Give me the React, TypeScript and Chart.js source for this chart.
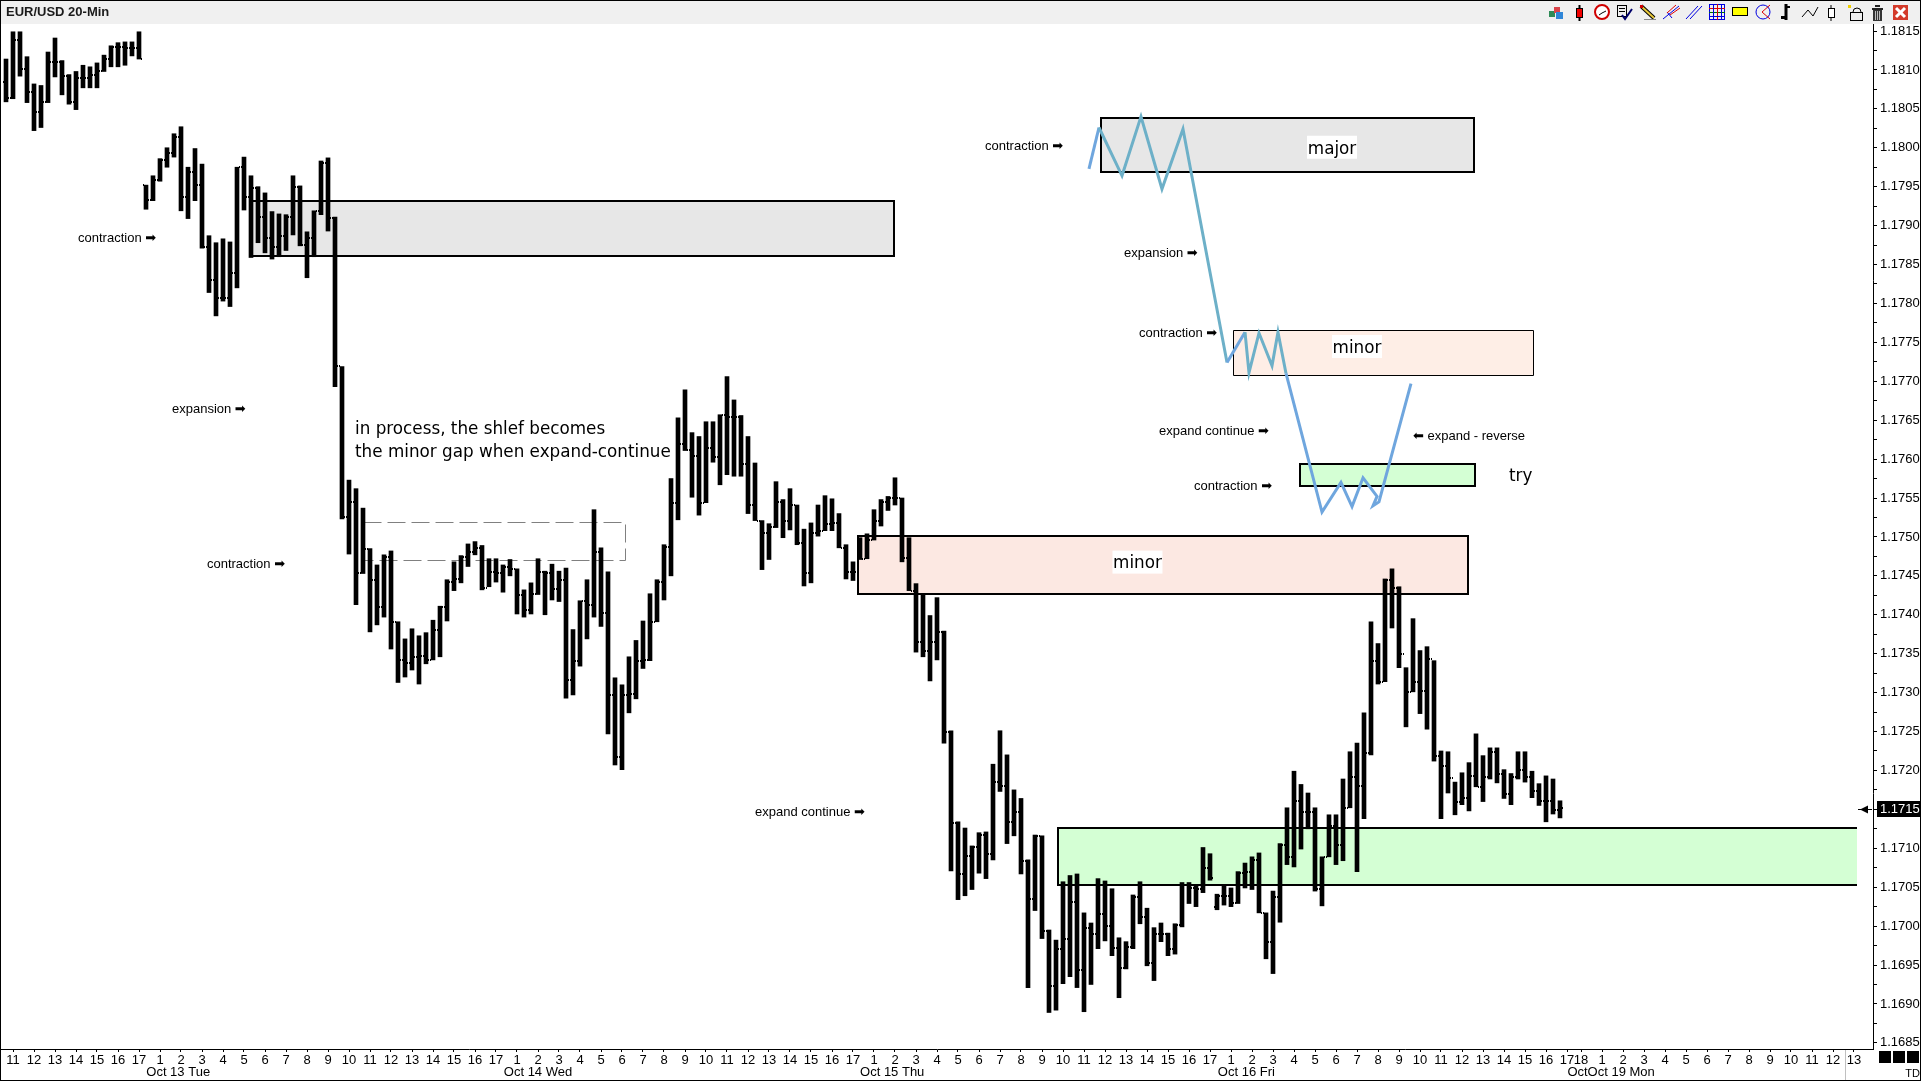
import { useEffect, useRef } from "react";
import { Chart, registerables } from "chart.js";

Chart.register(...registerables);

const highs = [
  1.18114,1.18149,1.18149,1.18117,1.18082,1.18080,1.18123,1.18141,1.18112,1.18094,
  1.18098,1.18106,1.18104,1.18109,1.18119,1.18131,1.18135,1.18136,1.18136,1.18149,
  1.17952,1.17964,1.17986,1.18000,1.18018,1.18027,1.17975,1.17999,1.17979,1.17887,
  1.17878,1.17883,1.17879,1.17975,1.17988,1.17964,1.17950,1.17942,1.17918,1.17915,
  1.17914,1.17964,1.17951,1.17892,1.17919,1.17983,1.17987,1.17911,1.17719,1.17573,
  1.17562,1.17537,1.17485,1.17464,1.17477,1.17482,1.17391,1.17369,1.17382,1.17373,
  1.17377,1.17393,1.17411,1.17445,1.17468,1.17476,1.17491,1.17494,1.17489,1.17472,
  1.17472,1.17464,1.17471,1.17459,1.17432,1.17441,1.17472,1.17456,1.17465,1.17456,
  1.17460,1.17381,1.17418,1.17445,1.17535,1.17486,1.17455,1.17319,1.17310,1.17346,
  1.17367,1.17392,1.17427,1.17445,1.17490,1.17575,1.17653,1.17689,1.17634,1.17629,
  1.17648,1.17648,1.17657,1.17706,1.17676,1.17656,1.17629,1.17595,1.17521,1.17517,
  1.17571,1.17548,1.17562,1.17541,1.17510,1.17518,1.17541,1.17553,1.17549,1.17530,
  1.17490,1.17468,1.17499,1.17504,1.17535,1.17548,1.17552,1.17576,1.17550,1.17499,
  1.17440,1.17427,1.17399,1.17422,1.17379,1.17251,1.17134,1.17126,1.17103,1.17120,
  1.17121,1.17208,1.17251,1.17220,1.17175,1.17164,1.17085,1.17117,1.17116,1.16995,
  1.16982,1.17057,1.17065,1.17067,1.17017,1.17004,1.17061,1.17058,1.17048,1.16985,
  1.16980,1.17040,1.17057,1.17023,1.16998,1.17004,1.16991,1.17003,1.17056,1.17056,
  1.17052,1.17101,1.17093,1.17041,1.17053,1.17049,1.17070,1.17081,1.17089,1.17094,
  1.17017,1.17045,1.17106,1.17152,1.17199,1.17182,1.17171,1.17152,1.17089,1.17143,
  1.17143,1.17189,1.17224,1.17235,1.17274,1.17391,1.17363,1.17446,1.17459,1.17436,
  1.17332,1.17395,1.17354,1.17359,1.17341,1.17225,1.17224,1.17185,1.17197,1.17210,
  1.17247,1.17219,1.17229,1.17229,1.17201,1.17196,1.17224,1.17224,1.17199,1.17183,1.17193,1.17189,1.17161,
];

const lows = [
  1.18059,1.18063,1.18092,1.18058,1.18022,1.18026,1.18058,1.18091,1.18068,1.18056,
  1.18049,1.18077,1.18077,1.18077,1.18098,1.18104,1.18104,1.18106,1.18118,1.18114,
  1.17921,1.17932,1.17957,1.17975,1.17988,1.17919,1.17909,1.17932,1.17871,1.17814,
  1.17784,1.17803,1.17796,1.17820,1.17920,1.17859,1.17878,1.17865,1.17857,1.17860,
  1.17868,1.17888,1.17874,1.17833,1.17860,1.17914,1.17893,1.17693,1.17523,1.17478,
  1.17413,1.17453,1.17378,1.17387,1.17397,1.17356,1.17313,1.17320,1.17329,1.17311,
  1.17337,1.17342,1.17346,1.17392,1.17431,1.17441,1.17462,1.17477,1.17432,1.17436,
  1.17442,1.17429,1.17450,1.17401,1.17397,1.17401,1.17426,1.17400,1.17419,1.17417,
  1.17293,1.17297,1.17334,1.17369,1.17397,1.17385,1.17247,1.17207,1.17201,1.17274,
  1.17292,1.17331,1.17341,1.17391,1.17419,1.17450,1.17522,1.17611,1.17551,1.17528,
  1.17544,1.17596,1.17567,1.17580,1.17578,1.17578,1.17530,1.17521,1.17458,1.17471,
  1.17512,1.17499,1.17509,1.17490,1.17437,1.17441,1.17501,1.17508,1.17508,1.17486,
  1.17446,1.17444,1.17471,1.17472,1.17496,1.17514,1.17534,1.17541,1.17468,1.17431,
  1.17352,1.17346,1.17315,1.17342,1.17235,1.17071,1.17034,1.17039,1.17047,1.17068,
  1.17061,1.17085,1.17173,1.17106,1.17116,1.17067,1.16921,1.17020,1.16984,1.16889,
  1.16892,1.16926,1.16935,1.16921,1.16890,1.16925,1.16971,1.16981,1.16962,1.16908,
  1.16945,1.16971,1.17003,1.16949,1.16930,1.16980,1.16962,1.16964,1.16999,1.17029,
  1.17025,1.17043,1.17059,1.17021,1.17027,1.17025,1.17029,1.17049,1.17047,1.17017,
  1.16958,1.16939,1.17005,1.17079,1.17076,1.17099,1.17125,1.17045,1.17026,1.17089,
  1.17079,1.17084,1.17152,1.17070,1.17138,1.17220,1.17311,1.17314,1.17383,1.17332,
  1.17256,1.17301,1.17273,1.17253,1.17212,1.17138,1.17171,1.17143,1.17156,1.17148,
  1.17179,1.17160,1.17189,1.17184,1.17164,1.17156,1.17189,1.17185,1.17165,1.17155,1.17134,1.17144,1.17139,
];

const closes = [
  1.18064,1.18139,1.18101,1.18071,1.18046,1.18059,1.18110,1.18110,1.18092,1.18059,
  1.18090,1.18089,1.18094,1.18099,1.18114,1.18130,1.18130,1.18128,1.18128,1.18114,
  1.17933,1.17959,1.17984,1.17993,1.18014,1.17937,1.17969,1.17952,1.17873,1.17830,
  1.17807,1.17807,1.17839,1.17975,1.17937,1.17948,1.17911,1.17884,1.17873,1.17886,
  1.17911,1.17950,1.17875,1.17884,1.17919,1.17981,1.17910,1.17719,1.17525,1.17545,
  1.17454,1.17485,1.17445,1.17410,1.17474,1.17391,1.17342,1.17338,1.17346,1.17347,
  1.17342,1.17381,1.17410,1.17442,1.17446,1.17474,1.17481,1.17486,1.17435,1.17455,
  1.17454,1.17462,1.17459,1.17426,1.17406,1.17427,1.17455,1.17454,1.17433,1.17445,
  1.17316,1.17341,1.17418,1.17413,1.17480,1.17402,1.17297,1.17217,1.17297,1.17298,
  1.17341,1.17342,1.17391,1.17442,1.17487,1.17543,1.17620,1.17612,1.17604,1.17544,
  1.17614,1.17603,1.17657,1.17654,1.17654,1.17594,1.17541,1.17521,1.17505,1.17513,
  1.17545,1.17521,1.17541,1.17492,1.17454,1.17505,1.17507,1.17517,1.17518,1.17486,
  1.17455,1.17455,1.17472,1.17496,1.17521,1.17545,1.17550,1.17550,1.17473,1.17431,
  1.17365,1.17354,1.17365,1.17378,1.17250,1.17133,1.17067,1.17090,1.17101,1.17117,
  1.17092,1.17185,1.17180,1.17134,1.17147,1.17084,1.17035,1.17116,1.16994,1.16923,
  1.16971,1.16984,1.17031,1.16944,1.16998,1.16990,1.17016,1.17000,1.16972,1.16946,
  1.16973,1.17038,1.17012,1.16953,1.16990,1.16990,1.16971,1.17002,1.17053,1.17049,
  1.17048,1.17075,1.17062,1.17039,1.17039,1.17030,1.17068,1.17070,1.17085,1.17017,
  1.16980,1.17038,1.17104,1.17089,1.17161,1.17147,1.17147,1.17048,1.17089,1.17129,
  1.17104,1.17152,1.17192,1.17180,1.17223,1.17341,1.17314,1.17445,1.17435,1.17350,
  1.17301,1.17313,1.17302,1.17343,1.17219,1.17206,1.17190,1.17160,1.17165,1.17193,
  1.17179,1.17192,1.17224,1.17196,1.17170,1.17192,1.17201,1.17192,1.17173,1.17161,1.17161,1.17149,1.17152,
];

const opens = [
  1.18085,1.18064,1.18139,1.18101,1.18071,1.18046,1.18059,1.18110,1.18110,1.18092,
  1.18059,1.18090,1.18089,1.18094,1.18099,1.18114,1.18130,1.18130,1.18128,1.18128,
  1.17952,1.17933,1.17959,1.17984,1.17993,1.18014,1.17937,1.17969,1.17952,1.17873,
  1.17830,1.17807,1.17807,1.17839,1.17975,1.17937,1.17948,1.17911,1.17884,1.17873,
  1.17886,1.17911,1.17950,1.17875,1.17884,1.17919,1.17981,1.17910,1.17719,1.17525,
  1.17545,1.17454,1.17485,1.17445,1.17410,1.17474,1.17391,1.17342,1.17338,1.17346,
  1.17347,1.17342,1.17381,1.17410,1.17442,1.17446,1.17474,1.17481,1.17486,1.17435,
  1.17455,1.17454,1.17462,1.17459,1.17426,1.17406,1.17427,1.17455,1.17454,1.17433,
  1.17445,1.17316,1.17341,1.17418,1.17413,1.17480,1.17402,1.17297,1.17217,1.17297,
  1.17298,1.17341,1.17342,1.17391,1.17442,1.17487,1.17543,1.17620,1.17612,1.17604,
  1.17544,1.17614,1.17603,1.17657,1.17654,1.17654,1.17594,1.17541,1.17521,1.17505,
  1.17513,1.17545,1.17521,1.17541,1.17492,1.17454,1.17505,1.17507,1.17517,1.17518,
  1.17486,1.17455,1.17455,1.17472,1.17496,1.17521,1.17545,1.17550,1.17550,1.17473,
  1.17431,1.17365,1.17354,1.17365,1.17378,1.17250,1.17133,1.17067,1.17090,1.17101,
  1.17117,1.17092,1.17185,1.17180,1.17134,1.17147,1.17084,1.17035,1.17116,1.16994,
  1.16923,1.16971,1.16984,1.17031,1.16944,1.16998,1.16990,1.17016,1.17000,1.16972,
  1.16946,1.16973,1.17038,1.17012,1.16953,1.16990,1.16990,1.16971,1.17002,1.17053,
  1.17049,1.17048,1.17075,1.17025,1.17039,1.17039,1.17030,1.17068,1.17070,1.17085,
  1.17017,1.16980,1.17038,1.17104,1.17089,1.17161,1.17147,1.17147,1.17048,1.17089,
  1.17129,1.17104,1.17152,1.17192,1.17180,1.17223,1.17341,1.17314,1.17445,1.17435,
  1.17350,1.17301,1.17313,1.17302,1.17343,1.17219,1.17206,1.17190,1.17160,1.17165,
  1.17193,1.17179,1.17192,1.17224,1.17196,1.17170,1.17192,1.17201,1.17192,1.17173,1.17161,1.17161,1.17149,
];

// Schematic zig-zag: x in bar slots, y in price
const swingSlots = [154.71,156.14,159.43,162.14,165.14,168.14,174.43,177,177.57,179,180.86,181.71,182.86,188,190.71,192.29,193.86,195.86,195.29,196.14,200.71];
const swingPrices = [1.17973,1.18026,1.17964,1.18040,1.17947,1.18024,1.17724,1.17763,1.17711,1.17762,1.17720,1.17763,1.17710,1.17532,1.17570,1.17539,1.17576,1.17552,1.17540,1.17545,1.17697];
const swingInBox = [0,1,1,1,1,1,0,1,1,1,1,1,0,0,0,0,0,0,0,0];

// x axis: slot of every hour tick and its label
const hourLabels = [
  "11","12","13","14","15","16","17",
  "1","2","3","4","5","6","7","8","9","10","11","12","13","14","15","16","17",
  "1","2","3","4","5","6","7","8","9","10","11","12","13","14","15","16","17",
  "1","2","3","4","5","6","7","8","9","10","11","12","13","14","15","16","17",
  "1","2","3","4","5","6","7","8","9","10","11","12","13","14","15","16","17",
];
const hourLabelsAfter = ["18","1","2","3","4","5","6","7","8","9","10","11","12","13"];
const hourSlotsAfter = [225,228,231,234,237,240,243,246,249,252,255,258,261,264];

const dayLabels = ["Oct 13 Tue", "Oct 14 Wed", "Oct 15 Thu", "Oct 16 Fri", "OctOct 19 Mon"];
const daySlots = [24.6, 76, 126.6, 177.2, 229.3];

const priceTicks = [
  1.1685,1.16875,1.169,1.16925,1.1695,1.16975,1.17,1.17025,1.1705,1.17075,1.171,1.17125,1.1715,1.17175,
  1.172,1.17225,1.1725,1.17275,1.173,1.17325,1.1735,1.17375,1.174,1.17425,1.1745,1.17475,1.175,1.17525,
  1.1755,1.17575,1.176,1.17625,1.1765,1.17675,1.177,1.17725,1.1775,1.17775,1.178,1.17825,1.1785,1.17875,
  1.179,1.17925,1.1795,1.17975,1.18,1.18025,1.1805,1.18075,1.181,1.18125,1.1815,
];
const lastPrice = 1.1715;

const zones = [
  { x0: 35, x1: 126.86, top: 1.17931, bottom: 1.17861, fill: "#E7E7E7", lw: 2, openRight: false },
  { x0: 121.71, x1: 208.86, top: 1.17501, bottom: 1.17427, fill: "#FCE8E2", lw: 2, openRight: false },
  { x0: 150.29, x1: 264.43, top: 1.17126, bottom: 1.17053, fill: "#D4FFD4", lw: 2, openRight: true },
  { x0: 156.43, x1: 209.71, top: 1.18038, bottom: 1.17969, fill: "#E7E7E7", lw: 2, openRight: false },
  { x0: 175.29, x1: 218.14, top: 1.17766, bottom: 1.17708, fill: "#FEEEE6", lw: 1, openRight: false },
  { x0: 184.86, x1: 209.86, top: 1.17594, bottom: 1.17566, fill: "#D4FFD4", lw: 2, openRight: false },
];
const dashedZone = { x0: 51, x1: 88.43, top: 1.17519, bottom: 1.17471 };

const SMALL = "13px 'Liberation Sans', 'DejaVu Sans', sans-serif";
const LARGE = "16.8px 'DejaVu Sans', sans-serif";
const notes = [
  { text: "contraction ➡", x: 10.29, y: 1.17884, font: SMALL },
  { text: "expansion ➡", x: 23.71, y: 1.17665, font: SMALL },
  { text: "contraction ➡", x: 28.71, y: 1.17465, font: SMALL },
  { text: "expand continue ➡", x: 107, y: 1.17147, font: SMALL },
  { text: "contraction ➡", x: 139.86, y: 1.18002, font: SMALL },
  { text: "expansion ➡", x: 159.71, y: 1.17865, font: SMALL },
  { text: "contraction ➡", x: 161.86, y: 1.17762, font: SMALL },
  { text: "expand continue ➡", x: 164.71, y: 1.17636, font: SMALL },
  { text: "contraction ➡", x: 169.71, y: 1.17566, font: SMALL },
  { text: "⬅ expand - reverse", x: 201, y: 1.1763, font: SMALL },
  { text: "try", x: 214.71, y: 1.1758, font: LARGE },
  { text: "in process, the shlef becomes", x: 49.86, y: 1.1764, font: LARGE },
  { text: "the minor gap when expand-continue", x: 49.86, y: 1.17611, font: LARGE },
];
const tags = [
  { text: "major", x: 189.43, y: 1.18 },
  { text: "minor", x: 193, y: 1.17744 },
  { text: "minor", x: 161.64, y: 1.17467 },
];

const barPoints = highs.map((h, i) => ({ x: i, y: [lows[i], h] }));
const swingPoints = swingSlots.map((x, i) => ({ x, y: swingPrices[i] }));
const hourSlots = hourLabels.map((_, i) => 1 + 3 * i).concat(hourSlotsAfter);
const allHourLabels = hourLabels.concat(hourLabelsAfter);

function drawToolbar(c: CanvasRenderingContext2D) {
  const rect = (x: number, y: number, w: number, h: number, f: string) => { c.fillStyle = f; c.fillRect(x, y, w, h); };
  const line = (pts: number[][], col: string, lw = 1) => {
    c.strokeStyle = col; c.lineWidth = lw; c.beginPath();
    pts.forEach((p, i) => (i ? c.lineTo(p[0], p[1]) : c.moveTo(p[0], p[1])));
    c.stroke();
  };
  const circle = (x: number, y: number, r: number, col: string, lw = 1, f?: string) => {
    c.beginPath(); c.arc(x, y, r, 0, Math.PI * 2);
    if (f) { c.fillStyle = f; c.fill(); }
    c.strokeStyle = col; c.lineWidth = lw; c.stroke();
  };
  // cubes
  rect(1549, 11, 6, 6, "#2E8B57"); rect(1554, 7, 6, 6, "#D9434A"); rect(1556, 12, 7, 7, "#2F86D8");
  // red candle
  rect(1578.5, 5, 2, 16, "#000"); rect(1576, 8, 7, 10, "#000"); rect(1577, 9, 5, 8, "#F00000");
  // clock
  circle(1602, 12, 7, "#D00000", 2, "#fff"); line([[1602, 13], [1606, 11]], "#000"); line([[1602, 13], [1599, 15]], "#000");
  // check list
  c.strokeStyle = "#000"; c.lineWidth = 1; c.strokeRect(1617.5, 5.5, 9, 11);
  line([[1619, 8.5], [1625, 8.5]], "#000"); line([[1619, 11.5], [1625, 11.5]], "#000");
  line([[1622, 15], [1625, 19], [1632, 9]], "#00006A", 2);
  // pencil
  line([[1641, 6], [1654, 18]], "#000", 4); line([[1641, 6], [1654, 18]], "#E8C83A", 2); rect(1640, 5, 3, 3, "#D00000");
  line([[1644, 19.5], [1656, 19.5]], "#888");
  // pitchfork
  line([[1663, 19], [1679, 6]], "#0000E0"); line([[1667, 12], [1672, 18]], "#0000E0");
  line([[1667, 13], [1676, 5]], "#E00000"); line([[1670, 15], [1680, 8]], "#E00000");
  // parallels
  line([[1686, 19], [1698, 6]], "#0000E0"); line([[1690, 19], [1702, 6]], "#0000E0");
  // grid
  c.strokeStyle = "#0000E0"; c.strokeRect(1709.5, 4.5, 15, 15);
  line([[1709, 12.5], [1725, 12.5]], "#007000"); line([[1717.5, 4], [1717.5, 20]], "#E00000");
  line([[1709, 8.5], [1725, 8.5]], "#E00000"); line([[1709, 16.5], [1725, 16.5]], "#0000E0"); line([[1713.5, 4], [1713.5, 20]], "#0000E0"); line([[1721.5, 4], [1721.5, 20]], "#0000E0");
  // yellow box
  rect(1733, 7, 15, 9, "#FFFF00"); c.strokeStyle = "#000"; c.strokeRect(1732.5, 7.5, 15, 8);
  // circle and angle
  circle(1763, 12, 7, "#0000E0"); line([[1770, 5], [1762, 12], [1770, 19]], "#E00000");
  // bar
  rect(1784.5, 4, 3, 16, "#000"); rect(1781, 16, 4, 3, "#000"); rect(1787, 6, 3, 2, "#000");
  // zig-zag
  line([[1802, 17], [1808, 10], [1813, 16], [1818, 7]], "#000");
  // hollow candle
  rect(1830.5, 5, 1, 16, "#000"); rect(1828, 8, 7, 10, "#000"); rect(1829, 9, 5, 8, "#fff");
  // lock
  circle(1857, 12, 4, "#000"); rect(1850, 12, 13, 9, "#eee"); c.strokeStyle = "#000"; c.strokeRect(1850.5, 12.5, 12, 8);
  rect(1848, 5, 3, 3, "#F0D000");
  // trash
  rect(1872, 8, 11, 2, "#222"); rect(1875, 5, 5, 2, "#222"); rect(1873, 10, 9, 11, "#333");
  line([[1875.5, 11], [1875.5, 20]], "#bbb"); line([[1877.5, 11], [1877.5, 20]], "#bbb"); line([[1879.5, 11], [1879.5, 20]], "#bbb");
  // close
  rect(1893, 5, 15, 15, "#D33A2A"); line([[1896, 8], [1905, 17]], "#fff", 3); line([[1905, 8], [1896, 17]], "#fff", 3);
}

const chartDecor = {
  id: "chartDecor",
  beforeDraw(chart: any) {
    const c = chart.ctx as CanvasRenderingContext2D;
    c.save();
    c.fillStyle = "#fff";
    c.fillRect(0, 0, 1921, 1081);
    c.fillStyle = "#F0F0F0";
    c.fillRect(0, 0, 1921, 24);
    drawToolbar(c);
    c.fillStyle = "#1a1a1a";
    c.font = "bold 13px 'Liberation Sans', sans-serif";
    c.textBaseline = "middle";
    c.textAlign = "left";
    c.fillText("EUR/USD 20-Min", 6, 12.5);
    c.restore();
  },
  beforeDatasetsDraw(chart: any) {
    const c = chart.ctx as CanvasRenderingContext2D;
    const X = chart.scales.x, Y = chart.scales.y;
    c.save();
    zones.forEach((z) => {
      const x0 = Math.round(X.getPixelForValue(z.x0)), x1 = Math.round(X.getPixelForValue(z.x1));
      const y0 = Math.round(Y.getPixelForValue(z.top)), y1 = Math.round(Y.getPixelForValue(z.bottom));
      c.fillStyle = z.fill;
      c.fillRect(x0, y0, x1 - x0, y1 - y0);
      c.strokeStyle = "#000";
      c.lineWidth = z.lw;
      const o = z.lw === 1 ? 0.5 : 0;
      c.beginPath();
      if (z.openRight) {
        c.moveTo(x1, y0 + o);
        c.lineTo(x0 + o, y0 + o);
        c.lineTo(x0 + o, y1 + o);
        c.lineTo(x1, y1 + o);
      } else {
        c.rect(x0 + o, y0 + o, x1 - x0, y1 - y0);
      }
      c.stroke();
    });
    const dx0 = Math.round(X.getPixelForValue(dashedZone.x0)) + 0.5, dx1 = Math.round(X.getPixelForValue(dashedZone.x1)) + 0.5;
    const dy0 = Math.round(Y.getPixelForValue(dashedZone.top)) + 0.5, dy1 = Math.round(Y.getPixelForValue(dashedZone.bottom)) + 0.5;
    c.strokeStyle = "#808080";
    c.lineWidth = 1;
    c.setLineDash([18, 6]);
    c.strokeRect(dx0, dy0, dx1 - dx0, dy1 - dy0);
    c.setLineDash([]);
    c.restore();
  },
  afterDatasetsDraw(chart: any) {
    const c = chart.ctx as CanvasRenderingContext2D;
    const X = chart.scales.x, Y = chart.scales.y;
    c.save();
    // open (left) and close (right) ticks of every bar
    c.fillStyle = "#000";
    highs.forEach((_, i) => {
      const px = X.getPixelForValue(i);
      c.fillRect(px - 3, Math.round(Y.getPixelForValue(opens[i])) - 1, 1, 2);
      c.fillRect(px + 2, Math.round(Y.getPixelForValue(closes[i])) - 1, 1, 2);
    });
    c.textBaseline = "middle";
    c.textAlign = "left";
    notes.forEach((n) => {
      c.font = n.font;
      c.fillStyle = "#000";
      c.fillText(n.text, X.getPixelForValue(n.x), Y.getPixelForValue(n.y) + (n.font === LARGE ? 2 : 0.5));
    });
    tags.forEach((t) => {
      const px = X.getPixelForValue(t.x), py = Y.getPixelForValue(t.y);
      c.fillStyle = "#fff";
      c.fillRect(px - 25, py - 12, 50, 23);
      c.fillStyle = "#000";
      c.font = LARGE;
      c.textAlign = "center";
      c.fillText(t.text, px, py + 1.5);
    });
    c.restore();
  },
  afterDraw(chart: any) {
    const c = chart.ctx as CanvasRenderingContext2D;
    const X = chart.scales.x, Y = chart.scales.y;
    c.save();
    // day labels
    c.fillStyle = "#000";
    c.font = "13px 'Liberation Sans', sans-serif";
    c.textAlign = "center";
    c.textBaseline = "middle";
    dayLabels.forEach((d, i) => c.fillText(d, X.getPixelForValue(daySlots[i]), 1072));
    // last price
    const py = Math.round(Y.getPixelForValue(lastPrice));
    c.fillStyle = "#000";
    c.fillRect(1877, py - 8, 44, 16);
    c.fillStyle = "#fff";
    c.textAlign = "left";
    c.fillText(lastPrice.toFixed(4), 1880, py + 0.5);
    c.fillStyle = "#000";
    c.fillRect(1858, py, 14, 1);
    c.beginPath();
    c.moveTo(1860, py + 0.5);
    c.lineTo(1868, py - 3.5);
    c.lineTo(1868, py + 4.5);
    c.closePath();
    c.fill();
    // bottom right corner
    c.fillStyle = "#C0C0C0";
    c.fillRect(1845, 1050, 1, 30);
    c.fillStyle = "#000";
    c.fillRect(1879, 1051, 12, 12);
    c.fillRect(1893, 1051, 12, 12);
    c.fillRect(1907, 1051, 12, 12);
    c.textAlign = "right";
    c.font = "11px 'Liberation Sans', sans-serif";
    c.fillText("TD", 1920, 1074);
    // frame
    c.strokeStyle = "#000";
    c.lineWidth = 1;
    c.strokeRect(0.5, 0.5, 1920, 1080);
    c.restore();
  },
};

export default function App() {
  const ref = useRef<HTMLCanvasElement | null>(null);
  useEffect(() => {
    document.body.style.margin = "0";
    document.documentElement.style.overflow = "hidden";
    const chart = new Chart(ref.current as HTMLCanvasElement, {
      type: "bar",
      data: {
        datasets: [
          {
            type: "line",
            data: swingPoints,
            borderColor: "#6FA6DE",
            borderWidth: 3,
            pointRadius: 0,
            tension: 0,
            order: 0,
            segment: { borderColor: (s: any) => (swingInBox[s.p0DataIndex] ? "#6DB0C8" : "#6FA6DE") },
          },
          {
            type: "bar",
            data: barPoints,
            backgroundColor: "#000",
            barThickness: 4,
            borderWidth: 0,
            borderSkipped: false,
            order: 1,
          },
        ] as any,
      },
      options: {
        responsive: false,
        animation: false,
        devicePixelRatio: 1,
        layout: { padding: { left: 1, top: 24, right: 0, bottom: 0 } },
        plugins: { legend: { display: false }, tooltip: { enabled: false } },
        scales: {
          x: {
            type: "linear",
            offset: false,
            min: -5 / 7,
            max: 1867 / 7,
            afterFit: (s: any) => { s.height = 32; s.paddingLeft = 0; s.paddingRight = 0; },
            afterBuildTicks: (s: any) => { s.ticks = hourSlots.map((value) => ({ value })); },
            border: { color: "#000", width: 1 },
            grid: { drawOnChartArea: false, tickLength: 3, color: "#000", offset: false },
            ticks: {
              autoSkip: false,
              maxRotation: 0,
              padding: 1,
              color: "#000",
              font: { family: "'Liberation Sans', sans-serif", size: 13 },
              callback: (v: any) => { const k = hourSlots.indexOf(v); return k >= 0 ? allHourLabels[k] : ""; },
            },
          },
          y: {
            type: "linear",
            position: "right",
            min: 1.168421,
            max: 1.18159,
            afterFit: (s: any) => { s.width = 48; s.paddingTop = 0; s.paddingBottom = 0; },
            afterBuildTicks: (s: any) => { s.ticks = priceTicks.map((value) => ({ value })); },
            border: { color: "#000", width: 1 },
            grid: { drawOnChartArea: false, tickLength: 4, color: "#000" },
            ticks: {
              autoSkip: false,
              padding: 3,
              color: "#000",
              font: { family: "'Liberation Sans', sans-serif", size: 13 },
              callback: (v: any) => (Math.round(v * 100000) % 50 === 0 ? Number(v).toFixed(4) : ""),
            },
          },
        },
      } as any,
      plugins: [chartDecor as any],
    });
    return () => chart.destroy();
  }, []);
  return <canvas ref={ref} width={1921} height={1081} style={{ display: "block", position: "absolute", left: 0, top: 0 }} />;
}
